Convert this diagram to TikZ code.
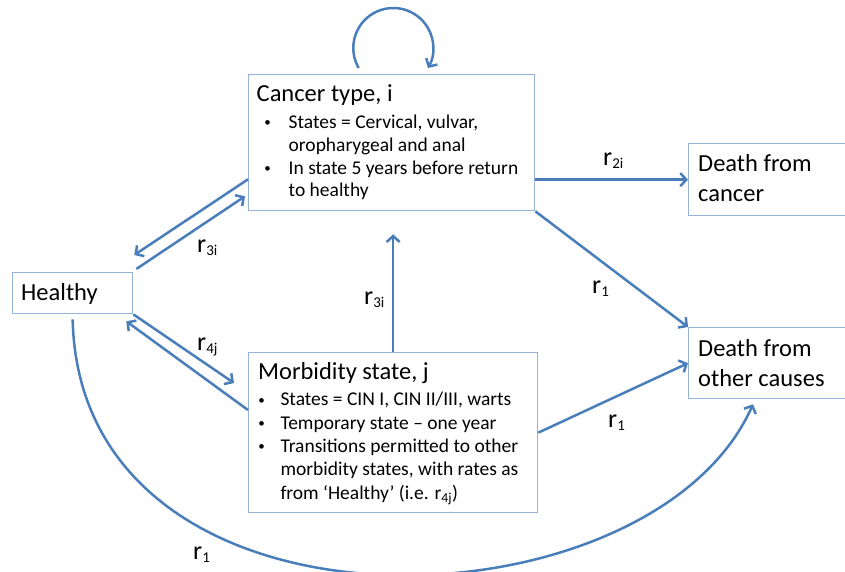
\documentclass[tikz,border=0pt]{standalone}
\usepackage{fontspec}
\setmainfont{Carlito}
\usetikzlibrary{arrows.meta,calc}
\definecolor{arrblue}{RGB}{74,126,187}
\definecolor{boxblue}{RGB}{149,179,215}
\newcommand\rlab[1]{r\raisebox{-3.5pt}{\fontsize{15}{17}\selectfont #1}}
\newcommand\bul{\makebox[10pt]{\raisebox{1.6pt}{\fontsize{13}{13}\selectfont\textbullet}}}
\begin{document}
\begin{tikzpicture}[x=1pt,y=-1pt,
 box/.style={draw=boxblue,line width=1.3pt,rectangle,inner sep=0pt,anchor=north west},
 arr/.style={draw=arrblue,line width=2.5pt,-{Straight Barb[length=6pt,width=13pt]}},
 txt/.style={inner sep=0pt,anchor=base west,font=\fontsize{24.5}{29.7}\selectfont},
 lbl/.style={inner sep=0pt,anchor=base west,font=\fontsize{26}{30}\selectfont}]
\useasboundingbox (0,0) rectangle (845,572);
% boxes
\node[box,minimum width=286pt,minimum height=136pt] (cancer) at (248,74) {};
\node[box,minimum width=289pt,minimum height=160pt] (morb) at (248,352) {};
\node[box,minimum width=120pt,minimum height=41pt] (healthy) at (12,272) {};
\node[box,minimum width=158pt,minimum height=72pt] (deathc) at (688,143) {};
\node[box,minimum width=158pt,minimum height=71pt] (deatho) at (688,327) {};
% texts
\node[txt] (healthytxt) at (21,300) {Healthy};
\node[txt] (dctxt) at (698,171.7) {\begin{tabular}[t]{@{}l@{}}Death from\\cancer\end{tabular}};
\node[txt] (dotxt) at (698,356.7) {\begin{tabular}[t]{@{}l@{}}Death from\\other causes\end{tabular}};
\node[txt] (cancertxt) at (256.5,101.5) {\fontsize{19.5}{22.9}\selectfont\begin{tabular}[t]{@{\hspace{6pt}}l@{\hspace{16pt}}l@{}}
\multicolumn{2}{@{}l@{}}{\fontsize{24.5}{29}\selectfont Cancer type, i}\\[3.9pt]
\bul & States = Cervical, vulvar,\\
 & oropharygeal and anal\\
\bul & In state 5 years before return\\
 & to healthy
\end{tabular}};
\node[txt] (morbtxt) at (258,379.3) {\fontsize{19.5}{23.4}\selectfont\begin{tabular}[t]{@{\hspace{-1.6pt}}l@{\hspace{13.9pt}}l@{}}
\multicolumn{2}{@{}l@{}}{\fontsize{24.5}{29}\selectfont Morbidity state, j}\\[2.9pt]
\bul & States = CIN I, CIN II/III, warts\\
\bul & Temporary state – one year\\
\bul & Transitions permitted to other\\
 & morbidity states, with rates as\\
 & from ‘Healthy’ (i.e. r\textsubscript{4j})
\end{tabular}};
% labels
\node[lbl] (l2i) at (603,165) {\rlab{2i}};
\node[lbl] (l1a) at (592,293) {\rlab{1}};
\node[lbl] (l1b) at (608,427) {\rlab{1}};
\node[lbl] (l3ia) at (197,252) {\rlab{3i}};
\node[lbl] (l4j) at (197,350) {\rlab{4j}};
\node[lbl] (l3ib) at (364,304) {\rlab{3i}};
\node[lbl] (l1c) at (193,559) {\rlab{1}};
% connectors
\draw[arr] (cancer.east |- deathc.west) -- (deathc.west);
\draw[arr] (cancer.south east) -- (deatho.north west);
\draw[arr] (morb.east) -- (deatho.west);
\draw[arr,shorten >=23pt] (morb.north) -- (morb.north |- cancer.south);
\draw[arr] ($(cancer.south west)+(0,-32)$) -- ($(healthy.north east)+(1,-17)$);
\draw[arr] ($(healthy.north east)+(3,-3)$) -- ($(cancer.south west)+(-3,-15)$);
\draw[arr] (healthy.south east) -- ($(morb.north west)+(-14,31)$);
\draw[arr] ($(morb.north west)+(0,58)$) -- ($(healthy.south east)+(-7,7)$);
\draw[arr] ($(healthy.south)+(0,5)$) .. controls (80,655) and (650,635) .. ($(deatho.south west)+(65,5)$);
\draw[arr] ($(cancer.north)+(-33,-6)$) arc[start angle=150,end angle=390,radius=40];
\end{tikzpicture}
\end{document}
